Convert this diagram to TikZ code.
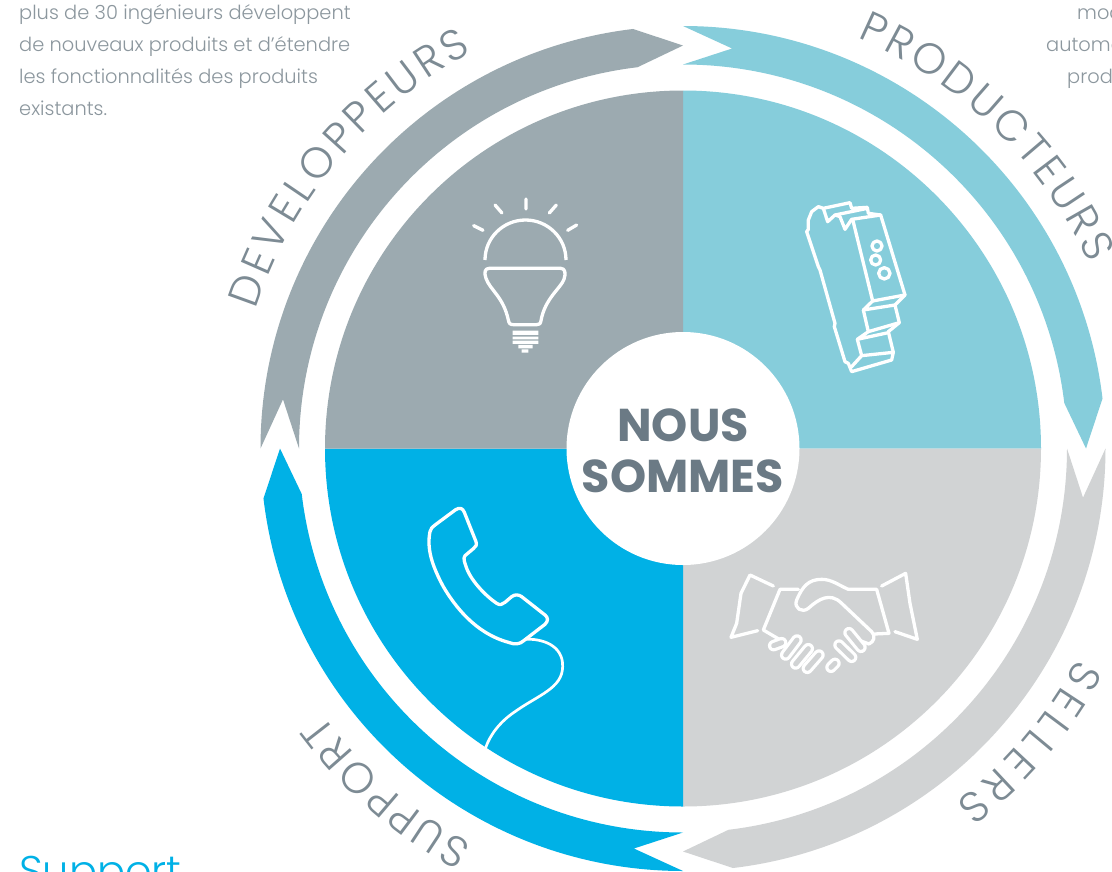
\documentclass[tikz,border=0pt]{standalone}
\usepackage{fontspec}
\usetikzlibrary{decorations.text}
\setmainfont{Poppins Light}
\newfontfamily\boldf{Poppins Bold}
\definecolor{tealc}{HTML}{86CDDB}
\definecolor{devc}{HTML}{9CAAB0}
\definecolor{sellc}{HTML}{D1D3D4}
\definecolor{supc}{HTML}{00B1E6}
\definecolor{bodyc}{HTML}{8C979E}
\definecolor{labc}{HTML}{7D8B94}
\definecolor{hubc}{HTML}{6B7A85}
\newcommand{\labf}{\fontsize{43}{43}\selectfont\color{labc}}
\tikzset{
  icon/.style={draw=white,line width=3.3pt,line join=round,line cap=round},
  thinicon/.style={draw=white,line width=2.7pt,line join=round,line cap=round},
  bodytext/.style={inner sep=0pt,anchor=base west,text=bodyc,font=\fontsize{19.4}{22}\selectfont},
  hubtext/.style={inner sep=0pt,text=hubc,font=\boldf\fontsize{46}{48}\selectfont},
  arclabel/.style={decorate,decoration={text along path,text align={fit to path},text={#1}}}
}
\begin{document}
\begin{tikzpicture}[x=1pt,y=-1pt]
\clip (0,0) rectangle (1112,871);
\fill[white] (0,0) rectangle (1112,871);
\begin{scope}[shift={(683,448.5)}]
  % pie
  \foreach \col/\a in {tealc/-90,sellc/0,supc/90,devc/180}{
    \pgfmathsetmacro{\b}{\a+90}
    \fill[\col] (0,0) -- (\a:358) arc[start angle=\a,end angle=\b,radius=358] -- cycle;
  }
  % ring arrows
  \foreach \col/\a in {tealc/-90,sellc/0,supc/90,devc/180}{
    \pgfmathsetmacro{\b}{\a+83.2}
    \pgfmathsetmacro{\c}{\a+90}
    \pgfmathsetmacro{\n}{\a+7}
    \fill[\col] (\a:422.5) arc[start angle=\a,end angle=\b,radius=422.5]
       -- (\c:403) -- (\b:384)
       arc[start angle=\b,end angle=\a,radius=384] -- (\n:403) -- cycle;
  }
  % labels on arcs
  \path[arclabel={|\labf|PRODUCTEURS}] (-67:446) arc[start angle=-67,end angle=-24.5,radius=446];
  \path[arclabel={|\labf|SELLERS}] (28:447) arc[start angle=28,end angle=52.4,radius=447];
  \path[arclabel={|\labf|SUPPORT}] (118:448) arc[start angle=118,end angle=143.5,radius=448];
  \path[arclabel={|\labf|DEVELOPPEURS}] (198:449) arc[start angle=198,end angle=242,radius=449];
\end{scope}
% hub
\node[circle,fill=white,minimum size=233pt,inner sep=0pt] (hub) at (683,448.5) {};
\node[hubtext] (nous) at (683,425) {NOUS};
\node[hubtext] (sommes) at (683,476) {SOMMES};
% body text
\node[bodytext] (l1) at (19,19) {plus de 30 ingénieurs développent};
\node[bodytext] (l2) at (19,51) {de nouveaux produits et d’étendre};
\node[bodytext] (l3) at (19,83) {les fonctionnalités des produits};
\node[bodytext] (l4) at (19,115) {existants.};
\node[bodytext] (r1) at (1077,19) {mod};
\node[bodytext] (r2) at (1046,51) {automa};
\node[bodytext] (r3) at (1067,83) {prod};
\node[inner sep=0pt,anchor=base west,text=supc,font=\fontsize{41.5}{44}\selectfont] (supp) at (19,885) {Support};
% bulb
\begin{scope}[shift={(440,180)},x=0.3333pt,y=-0.3333pt]
  \draw[icon] (258,57)--(258,87) (165,75)--(186,99) (328,99)--(349,75) (101,137)--(129,151) (383,151)--(410,135);
  \draw[icon,line cap=butt] (135,240) arc[start angle=180,end angle=360,x radius=121.5,y radius=120];
  \draw[icon] (148,265)--(362,265) .. controls (376,265) and (378,280) .. (372,298)
     .. controls (362,325) and (315,355) .. (303,422) .. controls (301,432) and (298,434) .. (290,434)
     -- (220,434) .. controls (210,434) and (207,430) .. (205,420)
     .. controls (190,350) and (150,330) .. (138,295) .. controls (132,278) and (134,265) .. (148,265) -- cycle;
  \fill[white] (218,452) rectangle (295,465) (218,470) rectangle (295,478) (218,482) rectangle (295,492)
               (235,495) rectangle (278,505) (245,508) rectangle (265,518);
\end{scope}
% din-rail device
\begin{scope}[shift={(780,190)},x=0.3333pt,y=-0.3333pt]
  \draw[icon] (130,55)--(210,38)--(215,55)--(262,52)--(265,70)--(302,75)--(375,315)--(345,345)--(358,398)--(325,425)--(340,487)--(335,510)--(215,545)--(205,520)--(195,515)--(163,410)--(165,400)--(120,240)--(115,230)--(80,125)--(85,118)--(85,90)--(95,65)--(115,50)--cycle;
  \draw[icon] (130,55)--(143,95)--(165,75)--(262,55);
  \draw[icon] (165,75)--(180,80)--(195,118)--(215,88)--(302,75);
  \draw[icon] (218,88)--(278,333)--(375,315);
  \draw[icon] (278,333)--(250,360)--(345,345);
  \draw[icon] (250,360)--(265,425)--(358,398);
  \draw[icon] (265,425)--(232,448)--(325,428);
  \draw[icon] (232,448)--(245,497)--(340,487);
  \draw[icon] (245,497)--(215,530);
  \draw[icon] (291,168) circle[radius=15] (287,210) circle[radius=15] (313,250) circle[radius=17];
\end{scope}
% handshake
\begin{scope}[shift={(715,560)},x=0.3333pt,y=-0.3333pt]
  \draw[icon] (175,78)--(105,45)--(78,100)--(65,190)--(48,232)--(128,212);
  \draw[icon] (500,78)--(572,40)--(585,130)--(607,238)--(540,215);
  \draw[icon] (250,88)--(195,88)--(145,210)--(205,245);
  \draw[icon] (478,222)--(522,220)--(485,88)--(400,88) .. controls (370,75) and (350,58) .. (320,58)
     .. controls (280,58) and (262,80) .. (245,120) .. controls (235,145) and (262,160) .. (280,145)
     .. controls (310,118) and (345,95) .. (380,130) -- (470,215) .. controls (482,228) and (478,245) .. (462,252) -- (430,240);
  \foreach \xa/\ya/\xb/\yb in {176/257/200/248, 212/285/246/240, 242/312/280/266, 277/325/312/285, 348/322/360/310, 372/255/410/292, 402/218/438/262}{
    \draw[white,line width=11.5pt,line cap=round] (\xa,\ya)--(\xb,\yb);
    \draw[sellc,line width=5pt,line cap=round] (\xa,\ya)--(\xb,\yb);
  }
\end{scope}
% telephone
\begin{scope}[shift={(415,495)},x=0.3333pt,y=-0.3333pt]
  \draw[icon] (60,90)--(122,44) .. controls (135,36) and (143,40) .. (148,52)
     -- (183,140) .. controls (186,150) and (183,155) .. (175,161)
     -- (150,182) .. controls (143,190) and (150,205) .. (155,220)
     .. controls (170,260) and (215,305) .. (245,325) .. controls (255,332) and (262,328) .. (270,322)
     -- (290,305) .. controls (300,297) and (312,299) .. (320,305)
     -- (390,360) .. controls (400,368) and (400,378) .. (390,388)
     -- (325,438) .. controls (315,447) and (300,450) .. (280,442)
     .. controls (200,420) and (135,360) .. (85,275)
     .. controls (50,210) and (35,160) .. (45,110) .. controls (47,100) and (52,96) .. (60,90) -- cycle;
  \draw[thinicon] (330,433) .. controls (380,430) and (445,450) .. (443,515)
     .. controls (442,580) and (370,600) .. (300,650) .. controls (255,680) and (225,720) .. (212,758);
\end{scope}
\end{tikzpicture}
\end{document}
